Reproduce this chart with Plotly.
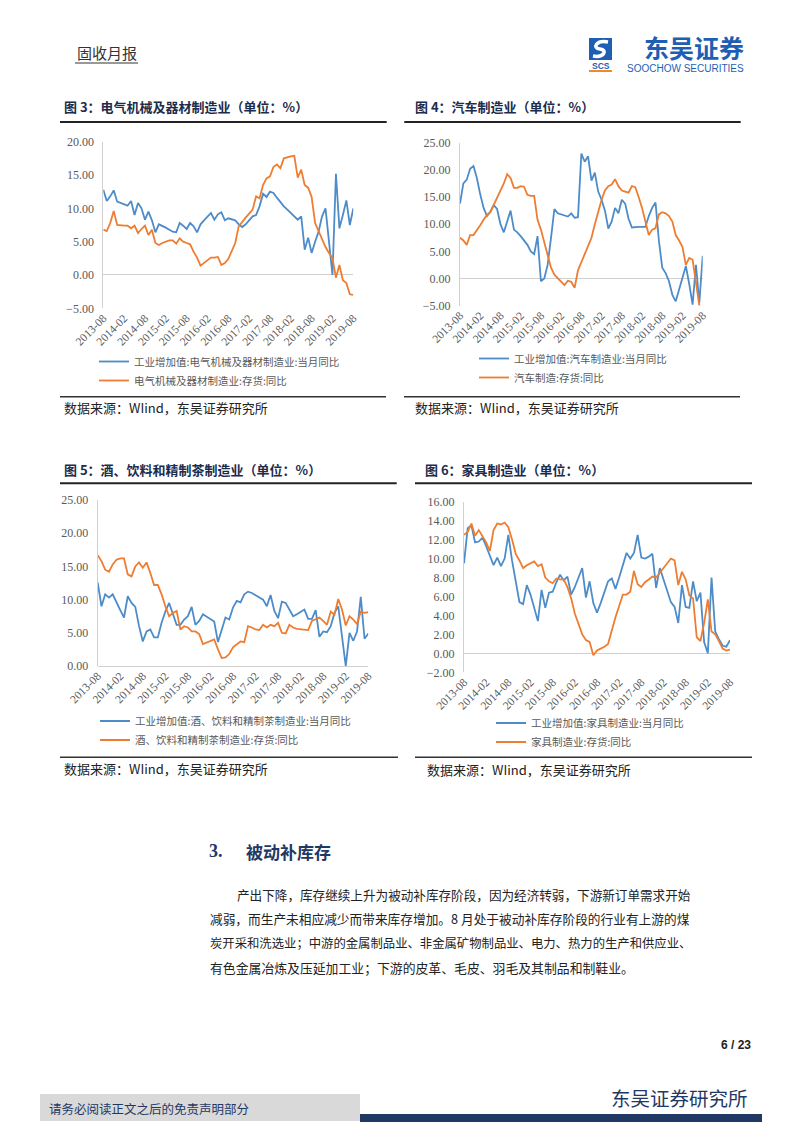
import plotly.graph_objects as go

W, H = 802, 1133


def fx(v):
    return v / W


def fy(v):
    return 1 - v / H


# ---------------- data ----------------
months = [f"{y}-{m:02d}" for y in range(2013, 2020) for m in range(1, 13)]
months = months[months.index("2013-08"): months.index("2019-08") + 1]
tick_labels = ["2013-08", "2014-02", "2014-08", "2015-02", "2015-08", "2016-02", "2016-08",
               "2017-02", "2017-08", "2018-02", "2018-08", "2019-02", "2019-08"]

elec_va = [12.8, 11.1, 11.8, 12.7, 11.0, 10.8, 10.6, 10.4, 11.1, 9.0,
           10.8, 10.0, 8.3, 9.5, 8.2, 6.4, 7.6, 7.4, 7.1, 6.8,
           6.5, 6.4, 7.8, 7.4, 6.9, 7.8, 7.3, 6.4, 7.6, 8.2,
           8.8, 9.3, 8.3, 9.1, 9.4, 8.2, 8.5, 8.3, 8.2, 7.6,
           7.2, 7.6, 8.2, 8.8, 9.0, 10.3, 12.2, 11.7, 12.5, 12.3,
           11.6, 10.9, 10.3, 9.8, 9.3, 8.8, 8.3, 8.8, 3.8, 5.6,
           3.3, 5.0, 6.5, 8.8, 10.0, 5.0, 0.0, 15.2, 7.0, 9.0,
           11.2, 7.5, 10.0]
elec_inv = [6.8, 6.6, 7.8, 9.6, 7.5, 7.4, 7.4, 7.4, 7.0, 7.4,
            6.3, 6.9, 7.4, 6.0, 6.8, 4.8, 4.5, 4.8, 5.0, 5.2,
            5.2, 4.7, 5.5, 5.0, 4.8, 4.6, 3.5, 2.6, 1.4, 1.8,
            2.3, 2.6, 2.6, 2.7, 1.5, 1.8, 2.4, 3.5, 4.8, 7.3,
            8.0, 8.6, 9.2, 9.8, 11.8, 11.5, 13.5, 14.5, 14.8, 16.2,
            16.6, 16.0, 17.5, 17.7, 17.8, 17.9, 14.6, 15.8, 13.5, 13.1,
            11.7, 7.8, 6.5, 5.2, 4.2, 3.3, 2.5, -0.4, 1.5, -0.8,
            -1.2, -2.9, -3.0]

auto_va = [13.8, 17.5, 18.2, 20.2, 20.7, 18.5, 15.5, 13.0, 11.5, 12.3,
           13.5, 12.8, 10.0, 8.5, 10.5, 12.5, 9.0, 8.5, 7.8, 7.0,
           6.2, 5.0, 4.5, 7.8, -0.5, 0.0, 2.5, 7.5, 12.8, 12.0,
           11.8, 11.6, 11.4, 12.0, 11.2, 11.3, 23.0, 21.5, 22.5, 18.0,
           19.5, 16.0, 14.5, 12.5, 9.2, 10.5, 13.0, 12.0, 14.5, 13.8,
           11.0, 9.4, 9.5, 9.5, 9.5, 9.5, 11.5, 13.0, 14.0, 7.0,
           2.0, 1.0, -0.5, -3.0, -4.2, -2.0, 0.0, 2.3, -1.0, -4.8,
           2.5, -4.5, 4.2]
auto_inv = [7.5, 7.0, 6.2, 8.0, 8.0, 8.8, 9.8, 10.8, 11.7, 12.2,
            13.5, 15.0, 16.3, 17.5, 19.2, 18.5, 16.7, 16.7, 17.0, 16.9,
            15.4, 15.2, 15.2, 10.8, 9.0, 6.5, 4.0, 2.0, 0.7, 0.0,
            -0.7, -1.2, -0.4, -0.6, -1.7, 1.5, 3.0, 4.5, 5.7, 7.5,
            10.0, 12.5, 14.5, 16.2, 17.0, 17.3, 18.3, 17.0, 16.2, 16.0,
            15.8, 17.0, 16.8, 15.0, 13.0, 10.5, 8.0, 9.0, 9.3, 11.8,
            12.2, 12.0, 11.5, 10.5, 8.0, 7.0, 5.8, 2.5, 3.8, 3.5,
            -0.5, -5.0, None]

bev_va = [12.6, 9.0, 10.8, 10.3, 10.8, 9.5, 8.4, 7.3, 10.5, 9.5,
          8.9, 6.0, 3.7, 5.2, 5.5, 4.3, 4.3, 6.5, 8.2, 9.5,
          8.0, 6.2, 6.2, 7.0, 7.5, 8.9, 6.2, 6.8, 7.8, 7.4,
          7.0, 6.7, 3.6, 5.5, 7.3, 7.0, 8.8, 9.8, 9.6, 10.8,
          11.2, 11.0, 10.7, 10.4, 10.0, 9.0, 10.7, 8.3, 7.2, 9.7,
          9.5, 8.5, 7.5, 7.8, 8.1, 8.5, 7.1, 7.1, 8.4, 4.4,
          5.2, 5.1, 6.0, 8.0, 9.0, 4.5, 0.0, 5.0, 3.8, 5.2,
          10.4, 4.1, 4.9]
bev_inv = [16.7, 15.8, 14.5, 14.2, 15.3, 16.0, 16.2, 16.2, 13.8, 13.5,
           15.0, 15.6, 14.8, 15.6, 14.0, 12.2, 12.2, 10.8, 9.0, 7.5,
           8.0, 8.3, 5.5, 6.0, 5.8, 5.2, 5.2, 4.8, 3.3, 3.5,
           3.8, 4.0, 2.5, 1.2, 1.3, 1.8, 2.8, 3.3, 3.7, 3.6,
           6.0, 5.8, 5.5, 5.4, 6.2, 5.8, 6.2, 6.0, 6.5, 5.0,
           4.9, 6.2, 5.8, 5.6, 5.5, 5.4, 5.4, 6.8, 7.0, 7.3,
           6.8, 6.2, 8.2, 7.7, 10.1, 8.5, 6.1, 7.5, 7.0, 6.3,
           8.2, 8.0, 8.1]

furn_va = [9.5, 13.2, 13.5, 11.7, 11.8, 12.2, 11.3, 10.3, 9.3, 10.1,
           9.2, 10.0, 12.5, 9.8, 7.5, 5.4, 5.2, 7.2, 6.2, 4.8,
           3.4, 6.7, 4.8, 6.4, 6.5, 7.5, 8.3, 7.7, 8.1, 6.2,
           7.0, 8.0, 9.0, 5.9, 7.6, 5.3, 4.3, 5.3, 6.4, 7.6,
           7.9, 6.8, 8.0, 9.2, 10.6, 10.0, 10.6, 12.5, 10.1, 10.0,
           10.2, 10.5, 6.9, 9.0, 7.8, 6.5, 5.4, 4.9, 3.2, 7.2,
           4.9, 4.8, 7.6, 5.5, 6.4, 1.2, 0.0, 8.0, 2.3, 1.5,
           0.8, 0.7, 1.4]
furn_inv = [12.5, 12.8, 13.7, 12.4, 13.0, 12.3, 11.7, 10.8, 13.0, 13.7,
            13.6, 13.8, 13.3, 12.0, 10.5, 9.8, 9.0, 9.3, 9.5, 9.7,
            9.2, 9.4, 8.0, 7.6, 7.4, 7.9, 7.8, 7.8, 7.0, 5.8,
            4.2, 3.0, 2.0, 1.4, 1.2, -0.2, 0.3, 0.5, 0.7, 1.0,
            2.5, 3.8, 5.0, 6.2, 6.2, 6.5, 8.7, 7.3, 7.0, 7.5,
            7.8, 8.1, 8.0, 8.5, 9.0, 9.5, 10.0, 9.8, 7.2, 8.6,
            7.8, 6.1, 5.8, 1.7, 1.3, 3.2, 5.7, 2.3, 2.0, 1.3,
            0.5, 0.3, 0.4]

BLUE = "#4D8CC9"
ORANGE = "#EE7D31"
NAVY = "#1F3864"
GREY_TXT = "#595959"
CJK = "Noto Sans CJK SC"
SERIF = "Liberation Serif, Times New Roman, serif"

charts = [
    dict(title="图 3：电气机械及器材制造业（单位：%）",
         blue=elec_va, orange=elec_inv,
         bname="工业增加值:电气机械及器材制造业:当月同比",
         oname="电气机械及器材制造业:存货:同比",
         xd=(103.3, 353.3), yd=(141.7, 308.3), yr=(-5, 20), dt=5,
         leg=(94, 347),
         tpos=(62, 107), tline=(60, 386.7, 122),
         src=(62, 407.5), sline=(60, 386, 396.7)),
    dict(title="图 4：汽车制造业（单位：%）",
         blue=auto_va, orange=auto_inv,
         bname="工业增加值:汽车制造业:当月同比",
         oname="汽车制造:存货:同比",
         xd=(460, 702.7), yd=(142.7, 305.7), yr=(-5, 25), dt=5,
         leg=(474, 344),
         tpos=(413, 107), tline=(404.3, 740.7, 122),
         src=(413, 407.7), sline=(404, 740, 396.7)),
    dict(title="图 5：酒、饮料和精制茶制造业（单位：%）",
         blue=bev_va, orange=bev_inv,
         bname="工业增加值:酒、饮料和精制茶制造业:当月同比",
         oname="酒、饮料和精制茶制造业:存货:同比",
         xd=(97.7, 368.3), yd=(500, 666), yr=(0, 25), dt=5,
         leg=(95, 706.5),
         tpos=(62, 469.5), tline=(60, 396.7, 483.3),
         src=(62, 768), sline=(60, 398, 757.3)),
    dict(title="图 6：家具制造业（单位：%）",
         blue=furn_va, orange=furn_inv,
         bname="工业增加值:家具制造业:当月同比",
         oname="家具制造业:存货:同比",
         xd=(464, 730), yd=(501.7, 672.3), yr=(-2, 16), dt=2,
         leg=(491, 708.5),
         tpos=(423.3, 469.5), tline=(415, 752, 483.3),
         src=(425, 769), sline=(415, 752, 757.3)),
]

fig = go.Figure()
shapes = []
annotations = []
layout = {}

for i, c in enumerate(charts, start=1):
    sfx = "" if i == 1 else str(i)
    legname = "legend" if i == 1 else f"legend{i}"
    xa, ya = f"x{sfx}", f"y{sfx}"
    fig.add_trace(go.Scatter(x=months, y=c["blue"], mode="lines", name=c["bname"],
                             line=dict(color=BLUE, width=1.8), xaxis=xa, yaxis=ya,
                             legend=legname, connectgaps=False))
    fig.add_trace(go.Scatter(x=months, y=c["orange"], mode="lines", name=c["oname"],
                             line=dict(color=ORANGE, width=1.8), xaxis=xa, yaxis=ya,
                             legend=legname, connectgaps=False))
    layout[f"xaxis{sfx}"] = dict(
        domain=[fx(c["xd"][0]), fx(c["xd"][1])], anchor=ya, type="category",
        range=[0, len(months) - 1], tickmode="array", tickvals=tick_labels,
        ticktext=tick_labels, tickangle=-45, showgrid=False, showline=False,
        zeroline=False, ticks="", tickfont=dict(family=SERIF, size=11.5, color=GREY_TXT),
        fixedrange=True, automargin=False)
    layout[f"yaxis{sfx}"] = dict(
        domain=[fy(c["yd"][1]), fy(c["yd"][0])], anchor=xa, range=list(c["yr"]),
        dtick=c["dt"], tickformat=".2f", showgrid=False, showline=True,
        linecolor="#D0D0D0", linewidth=1, zeroline=True, zerolinecolor="#D0D0D0",
        zerolinewidth=1, ticks="outside", ticklen=6, tickcolor="rgba(0,0,0,0)",
        tickfont=dict(family=SERIF, size=12, color=GREY_TXT), fixedrange=True,
        automargin=False)
    layout[legname] = dict(
        x=fx(c["leg"][0]), y=fy(c["leg"][1]), xanchor="left", yanchor="top",
        bgcolor="rgba(0,0,0,0)", orientation="v", tracegroupgap=0,
        font=dict(family=CJK, size=10.5, color=GREY_TXT), itemwidth=30)

    # title, rules, source
    annotations.append(dict(x=fx(c["tpos"][0]), y=fy(c["tpos"][1]), xref="paper", yref="paper",
                            text="<b>" + c["title"] + "</b>", showarrow=False,
                            xanchor="left", yanchor="middle",
                            font=dict(family=CJK, size=13, color="#1c2c4c")))
    x0, x1, yy = c["tline"]
    shapes.append(dict(type="line", xref="paper", yref="paper", x0=fx(x0), x1=fx(x1),
                       y0=fy(yy), y1=fy(yy), line=dict(color="#222222", width=2)))
    x0, x1, yy = c["sline"]
    shapes.append(dict(type="line", xref="paper", yref="paper", x0=fx(x0), x1=fx(x1),
                       y0=fy(yy), y1=fy(yy), line=dict(color="#333333", width=1.5)))
    annotations.append(dict(x=fx(c["src"][0]), y=fy(c["src"][1]), xref="paper", yref="paper",
                            text="数据来源：WIind，东吴证券研究所", showarrow=False,
                            xanchor="left", yanchor="middle",
                            font=dict(family=CJK, size=13, color="#222222")))

# ---------------- header ----------------
annotations.append(dict(x=fx(75), y=fy(52), xref="paper", yref="paper", text="固收月报",
                        showarrow=False, xanchor="left", yanchor="middle",
                        font=dict(family=CJK, size=15, color="#333333")))
shapes.append(dict(type="line", xref="paper", yref="paper", x0=fx(75), x1=fx(138),
                   y0=fy(63), y1=fy(63), line=dict(color="#333333", width=1)))
# logo icon
shapes.append(dict(type="rect", xref="paper", yref="paper", x0=fx(589), x1=fx(612),
                   y0=fy(60), y1=fy(38), fillcolor="#1E5FB3", line=dict(width=0)))
shapes.append(dict(type="path", xref="paper", yref="paper",
                   path=(f"M {fx(608)} {fy(42)} C {fx(596)} {fy(40)} {fx(592)} {fy(48)} {fx(600)} {fy(49)} "
                         f"C {fx(608)} {fy(50)} {fx(604)} {fy(58)} {fx(593)} {fy(56)}"),
                   line=dict(color="white", width=3.5)))
annotations.append(dict(x=fx(600.5), y=fy(66), xref="paper", yref="paper", text="<b>SCS</b>",
                        showarrow=False, xanchor="center", yanchor="middle",
                        font=dict(family="Liberation Sans", size=8.5, color="#1E5FB3")))
shapes.append(dict(type="line", xref="paper", yref="paper", x0=fx(589), x1=fx(612),
                   y0=fy(71), y1=fy(71), line=dict(color="#F08A24", width=2)))
annotations.append(dict(x=fx(746), y=fy(46.5), xref="paper", yref="paper", text="<b>东吴证券</b>",
                        showarrow=False, xanchor="right", yanchor="middle",
                        font=dict(family=CJK, size=25, color="#1E5FB3")))
annotations.append(dict(x=fx(746), y=fy(68.5), xref="paper", yref="paper",
                        text="SOOCHOW SECURITIES", showarrow=False, xanchor="right",
                        yanchor="middle",
                        font=dict(family="Liberation Sans", size=10, color="#1E5FB3")))

# ---------------- section text ----------------
annotations.append(dict(x=fx(207), y=fy(851), xref="paper", yref="paper", text="<b>3.</b>",
                        showarrow=False, xanchor="left", yanchor="middle",
                        font=dict(family=SERIF, size=18, color=NAVY)))
annotations.append(dict(x=fx(244), y=fy(851), xref="paper", yref="paper", text="<b>被动补库存</b>",
                        showarrow=False, xanchor="left", yanchor="middle",
                        font=dict(family=CJK, size=17, color=NAVY)))
para = [
    (235, 894, 12.6, "产出下降，库存继续上升为被动补库存阶段，因为经济转弱，下游新订单需求开始"),
    (208, 918.5, 12.7, "减弱，而生产未相应减少而带来库存增加。8 月处于被动补库存阶段的行业有上游的煤"),
    (208, 943, 12.35, "炭开采和洗选业；中游的金属制品业、非金属矿物制品业、电力、热力的生产和供应业、"),
    (208, 967.5, 12.85, "有色金属冶炼及压延加工业；下游的皮革、毛皮、羽毛及其制品和制鞋业。"),
]
for x, y, s, t in para:
    annotations.append(dict(x=fx(x), y=fy(y), xref="paper", yref="paper", text=t,
                            showarrow=False, xanchor="left", yanchor="middle",
                            font=dict(family=CJK, size=s, color="#222222")))

# ---------------- footer ----------------
annotations.append(dict(x=fx(753), y=fy(1045), xref="paper", yref="paper", text="<b>6 / 23</b>",
                        showarrow=False, xanchor="right", yanchor="middle",
                        font=dict(family="Liberation Sans", size=12, color="#222222")))
annotations.append(dict(x=fx(750), y=fy(1097), xref="paper", yref="paper", text="东吴证券研究所",
                        showarrow=False, xanchor="right", yanchor="middle",
                        font=dict(family=CJK, size=19.5, color=NAVY)))
shapes.append(dict(type="rect", xref="paper", yref="paper", x0=fx(40), x1=fx(360),
                   y0=fy(1121), y1=fy(1094), fillcolor="#D9D9D9", line=dict(width=0)))
shapes.append(dict(type="rect", xref="paper", yref="paper", x0=fx(360), x1=fx(762),
                   y0=fy(1122), y1=fy(1114), fillcolor=NAVY, line=dict(width=0)))
annotations.append(dict(x=fx(47), y=fy(1108), xref="paper", yref="paper",
                        text="请务必阅读正文之后的免责声明部分", showarrow=False,
                        xanchor="left", yanchor="middle",
                        font=dict(family=CJK, size=12.5, color=NAVY)))

fig.update_layout(
    width=W, height=H, autosize=False,
    margin=dict(l=0, r=0, t=0, b=0, pad=0, autoexpand=False),
    paper_bgcolor="white", plot_bgcolor="white", showlegend=True,
    shapes=shapes, annotations=annotations,
    font=dict(family=CJK, color="#222222"),
    **layout,
)

fig.write_html(
    "out.html",
    config={"displayModeBar": False, "staticPlot": True},
    post_script="document.body.style.margin='0';document.body.style.overflow='hidden';",
)
